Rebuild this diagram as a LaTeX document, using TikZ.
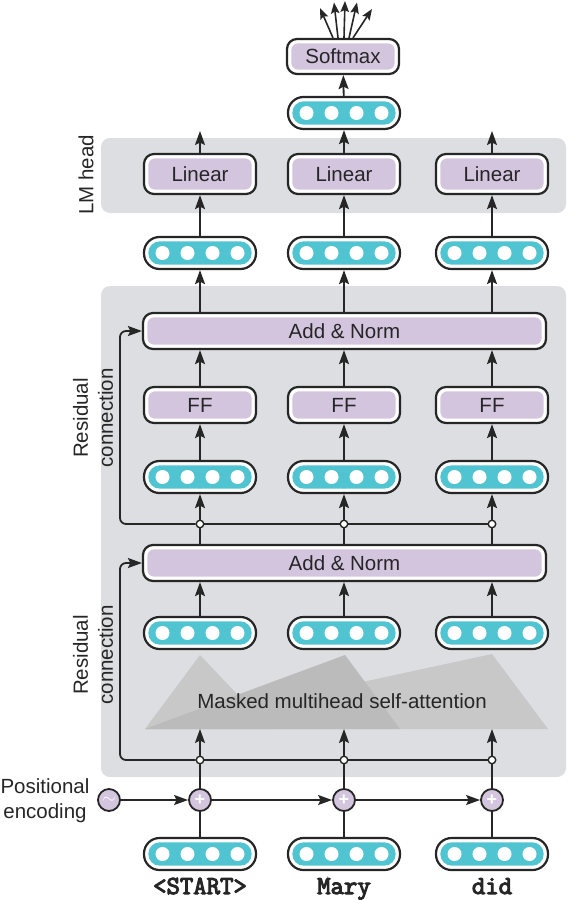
\documentclass[tikz,border=0pt]{standalone}
\usepackage{fontspec}
\setmainfont{Liberation Sans}
\newfontfamily\monob[FakeBold=4]{Latin Modern Mono}
\usetikzlibrary{arrows.meta}
\definecolor{bgc}{HTML}{DDDEE1}
\definecolor{purp}{HTML}{D4C5DF}
\definecolor{tealc}{HTML}{50C4D1}
\definecolor{linec}{HTML}{262626}
\definecolor{tril}{HTML}{C8C8C9}
\definecolor{trid}{HTML}{BBBBBC}
\tikzset{
  lbl/.style={font=\fontsize{20.5}{25}\selectfont, text=linec},
  vecbox/.style={draw=linec, line width=2.2pt, fill=white, rounded corners=15.5pt,
    minimum width=112pt, minimum height=32pt, inner sep=0pt,
    path picture={
      \fill[tealc, rounded corners=11.5pt]
        ([xshift=4.3pt,yshift=4.3pt]path picture bounding box.south west) rectangle
        ([xshift=-4.3pt,yshift=-4.3pt]path picture bounding box.north east);
      \foreach \i in {-37.5,-12.5,12.5,37.5}
        \fill[white] ([xshift=\i pt]path picture bounding box.center) circle[radius=7pt];
    }},
  pbox/.style={draw=linec, line width=2.2pt, fill=white, rounded corners=10pt,
    minimum width=112pt, minimum height=#1, inner sep=0pt, lbl,
    path picture={
      \fill[purp, rounded corners=7pt]
        ([xshift=4.3pt,yshift=4.3pt]path picture bounding box.south west) rectangle
        ([xshift=-4.3pt,yshift=-4.3pt]path picture bounding box.north east);
    }},
  pluscirc/.style={circle, draw=linec, line width=1.8pt, fill=purp, minimum size=22pt,
    inner sep=0pt, text=white, font=\fontsize{18}{18}\selectfont\bfseries},
  jn/.style={circle, draw=linec, line width=1.4pt, fill=white, minimum size=7.5pt, inner sep=0pt},
  conn/.style={draw=linec, line width=1.8pt},
  arr/.style={conn, -{Stealth[length=14pt,width=10pt,inset=2.5pt]}},
  fan/.style={conn, line width=1.6pt, -{Stealth[length=11pt,width=8.5pt,inset=2pt]}},
  word/.style={font=\monob\fontsize{26}{26}\selectfont, text=linec, anchor=base},
}
\begin{document}
\begin{tikzpicture}[x=1pt,y=-1pt]
\useasboundingbox (0,0) rectangle (568,900);
% backgrounds
\fill[bgc, rounded corners=9pt] (101,138) rectangle (566,213);
\fill[bgc, rounded corners=9pt] (101,286) rectangle (566,777);
% attention triangles
\fill[tril] (145,729) -- (492,654) -- (548,729) -- cycle;
\fill[tril] (145,729) -- (200,655) -- (270,729) -- cycle;
\fill[trid] (145,729) -- (345,655) -- (400,729) -- cycle;
\node[lbl] (mha) at (342,701) {Masked multihead self-attention};

% labels
\node[lbl, rotate=90] (lmh) at (86,175) {LM head};
\node[lbl, rotate=90, align=center] (res2) at (93,418) {Residual\\connection};
\node[lbl, rotate=90, align=center] (res1) at (93,655) {Residual\\connection};
\node[lbl, align=center] (posl) at (45,801) {Positional\\encoding};

% inputs
\node[vecbox] (in1) at (200,854) {};
\node[vecbox] (in2) at (344,854) {};
\node[vecbox] (in3) at (492,854) {};
\node[word] (w1) at (200,894) {<START>};
\node[word] (w2) at (344,894) {Mary};
\node[word] (w3) at (492,894) {did};

% positional encoding
\node[pluscirc] (pe) at (109,800) {$\sim$};
\node[pluscirc] (p1) at (200,800) {+};
\node[pluscirc] (p2) at (344,800) {+};
\node[pluscirc] (p3) at (492,800) {+};

% junctions
\node[jn] (ja1) at (200,760) {};
\node[jn] (ja2) at (344,760) {};
\node[jn] (ja3) at (492,760) {};
\coordinate (rca) at (120,760);
\coordinate (t1) at (200,729);
\coordinate (t2) at (344,729);
\coordinate (t3) at (492,729);

% block 1
\node[vecbox] (va1) at (200,633) {};
\node[vecbox] (va2) at (344,633) {};
\node[vecbox] (va3) at (492,633) {};
\node[pbox=36pt, minimum width=403pt] (an2) at (344.5,563) {Add \& Norm};

\node[jn] (jb1) at (200,524) {};
\node[jn] (jb2) at (344,524) {};
\node[jn] (jb3) at (492,524) {};
\coordinate (rcb) at (120,524);

\node[vecbox] (vb1) at (200,477) {};
\node[vecbox] (vb2) at (344,477) {};
\node[vecbox] (vb3) at (492,477) {};
\node[pbox=36pt] (ff1) at (200,405) {FF};
\node[pbox=36pt] (ff2) at (344,405) {FF};
\node[pbox=36pt] (ff3) at (492,405) {FF};
\node[pbox=36pt, minimum width=403pt] (an1) at (344.5,331) {Add \& Norm};

\node[vecbox] (vc1) at (200,253) {};
\node[vecbox] (vc2) at (344,253) {};
\node[vecbox] (vc3) at (492,253) {};
\node[pbox=40pt] (lin1) at (200,174) {Linear};
\node[pbox=40pt] (lin2) at (344,174) {Linear};
\node[pbox=40pt] (lin3) at (492,174) {Linear};
\coordinate (o1) at (200,131);
\coordinate (o3) at (492,131);
\node[vecbox] (tv) at (344,113) {};
\node[pbox=35pt] (sm) at (343,56.5) {Softmax};
\coordinate (f1) at (320,8);
\coordinate (f2) at (334,2.5);
\coordinate (f3) at (345,1);
\coordinate (f4) at (357,2.5);
\coordinate (f5) at (372,9);

% connectors: inputs and positional encoding
\foreach \i in {1,2,3} {
  \draw[conn] (in\i) -- (p\i);
  \draw[conn] (p\i) -- (ja\i);
  \draw[arr] (ja\i) -- (t\i);
}
\draw[arr] (pe) -- (p1);
\draw[arr] (p1) -- (p2);
\draw[arr] (p2) -- (p3);
\draw[conn] (ja3) -- (ja2);
\draw[conn] (ja2) -- (ja1);
\draw[arr, rounded corners=6pt] (ja1) -- (rca) |- (an2.west);

% block 1
\foreach \i in {1,2,3} {
  \draw[arr] (va\i) -- (va\i |- an2.south);
  \draw[conn] (jb\i |- an2.north) -- (jb\i);
  \draw[arr] (jb\i) -- (vb\i);
  \draw[arr] (vb\i) -- (ff\i);
  \draw[arr] (ff\i) -- (ff\i |- an1.south);
  \draw[arr] (vc\i |- an1.north) -- (vc\i);
  \draw[arr] (vc\i) -- (lin\i);
}
\draw[conn] (jb3) -- (jb2);
\draw[conn] (jb2) -- (jb1);
\draw[arr, rounded corners=6pt] (jb1) -- (rcb) |- (an1.west);

% head
\draw[arr] (lin1) -- (o1);
\draw[arr] (lin3) -- (o3);
\draw[arr] (lin2) -- (tv);
\draw[arr] (tv) -- (sm);
\draw[fan] ([xshift=-10pt]sm.north) -- (f1);
\draw[fan] ([xshift=-5pt]sm.north) -- (f2);
\draw[fan] ([xshift=1pt]sm.north) -- (f3);
\draw[fan] ([xshift=6pt]sm.north) -- (f4);
\draw[fan] ([xshift=10pt]sm.north) -- (f5);
\end{tikzpicture}
\end{document}
